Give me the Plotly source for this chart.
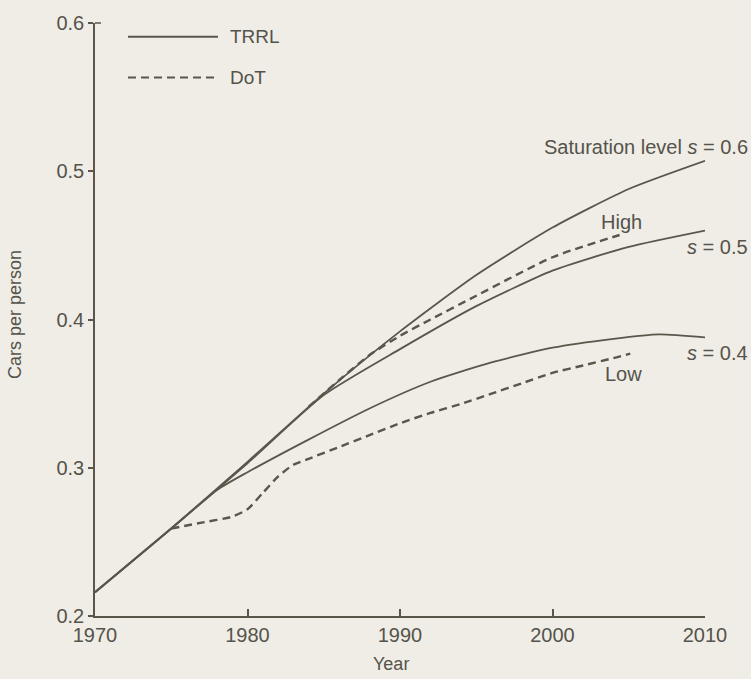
import plotly.graph_objects as go

# ---- data ----
years_s06 = [1970, 1975, 1980, 1985, 1990, 1995, 2000, 2005, 2010]
vals_s06 = [0.216, 0.259, 0.304, 0.350, 0.392, 0.430, 0.462, 0.488, 0.507]

years_s05 = [1970, 1975, 1980, 1985, 1990, 1995, 2000, 2005, 2010]
vals_s05 = [0.216, 0.259, 0.303, 0.349, 0.380, 0.409, 0.433, 0.449, 0.460]

years_s04 = [1970, 1975, 1978, 1980, 1984, 1988, 1992, 1996, 2000, 2004, 2007, 2010]
vals_s04 = [0.216, 0.259, 0.285, 0.297, 0.319, 0.340, 0.358, 0.371, 0.381, 0.387, 0.390, 0.388]

years_high = [1984, 1986, 1988, 1990, 1992, 1995, 2000, 2004.4]
vals_high = [0.341, 0.359, 0.376, 0.389, 0.400, 0.416, 0.442, 0.457]

years_low = [1975, 1977, 1979, 1980, 1981, 1982, 1983, 1984, 1986, 1988, 1990, 1992,
             1994, 1996, 1998, 2000, 2002, 2004, 2005.1]
vals_low = [0.259, 0.263, 0.267, 0.272, 0.283, 0.294, 0.302, 0.306, 0.314, 0.322, 0.330,
            0.337, 0.343, 0.350, 0.357, 0.364, 0.369, 0.374, 0.377]

x_ticks = [1970, 1980, 1990, 2000, 2010]
y_ticks = [0.2, 0.3, 0.4, 0.5, 0.6]

BG = "#efede5"
INK = "#5a564b"
TXT = "#55534c"
FONT = "Liberation Sans, Arial, sans-serif"

fig = go.Figure()

def solid(xs, ys, name):
    fig.add_trace(go.Scatter(x=xs, y=ys, mode="lines", name=name,
                             line=dict(color=INK, width=1.8, shape="spline", smoothing=0.6),
                             showlegend=False, hoverinfo="x+y"))

def dashed(xs, ys, name):
    fig.add_trace(go.Scatter(x=xs, y=ys, mode="lines", name=name,
                             line=dict(color=INK, width=2.4, dash="8px,5px", shape="spline", smoothing=0.6),
                             showlegend=False, hoverinfo="x+y"))

solid(years_s06, vals_s06, "TRRL s=0.6")
solid(years_s05, vals_s05, "TRRL s=0.5")
solid(years_s04, vals_s04, "TRRL s=0.4")
dashed(years_high, vals_high, "DoT High")
dashed(years_low, vals_low, "DoT Low")

W, H = 751, 679
L, R, T, B = 95, 46, 17, 63
pw, ph = W - L - R, H - T - B

def px(xp):
    return (xp - L) / pw

def py(yp):
    return (H - B - yp) / ph

shapes = [
    # legend samples
    dict(type="line", xref="paper", yref="paper", x0=px(128), x1=px(218), y0=py(31), y1=py(31),
         line=dict(color=INK, width=2)),
    dict(type="line", xref="paper", yref="paper", x0=px(128), x1=px(218), y0=py(72), y1=py(72),
         line=dict(color=INK, width=2, dash="8px,5px")),
    # small hook at top of y axis
    dict(type="line", xref="paper", yref="paper", x0=0, x1=px(101), y0=1, y1=1,
         line=dict(color=INK, width=1.5)),
]

def ann(text, x, y, xanchor="left", size=20, **kw):
    return dict(text=text, xref="paper", yref="paper", x=px(x), y=py(y), xanchor=xanchor,
                yanchor="middle", showarrow=False, borderpad=0,
                font=dict(family=FONT, size=size, color=TXT), **kw)

annotations = [
    ann("TRRL", 229, 31, size=19),
    ann("DoT", 229, 72, size=19),
    ann("Saturation level <i>s</i> = 0.6", 749, 142, xanchor="right"),
    ann("High", 621, 218, xanchor="center"),
    ann("<i>s</i> = 0.5", 749, 243, xanchor="right"),
    ann("<i>s</i> = 0.4", 749, 350, xanchor="right"),
    ann("Low", 623, 372, xanchor="center"),
    ann("Year", 391, 664, xanchor="center", size=18),
    ann("Cars per person", 15, 312, xanchor="center", size=18, textangle=-90),
]

fig.update_layout(
    width=W, height=H,
    margin=dict(l=L, r=R, t=T, b=B),
    paper_bgcolor=BG, plot_bgcolor=BG,
    font=dict(family=FONT, color=TXT, size=18),
    shapes=shapes, annotations=annotations,
    xaxis=dict(range=[1970, 2010], tickvals=x_ticks, ticktext=[str(v) for v in x_ticks],
               showgrid=False, zeroline=False, showline=True, linecolor=INK, linewidth=2,
               ticks="inside", ticklen=7, tickwidth=1.5, tickcolor=INK,
               tickfont=dict(family=FONT, size=20, color=TXT)),
    yaxis=dict(range=[0.2, 0.6], tickvals=y_ticks, ticktext=["0.2", "0.3", "0.4", "0.5", "0.6"],
               showgrid=False, zeroline=False, showline=True, linecolor=INK, linewidth=1.5,
               ticks="outside", ticklen=5, tickwidth=1.5, tickcolor=INK,
               tickfont=dict(family=FONT, size=20, color=TXT)),
)

fig.write_html(
    "out.html",
    config={"displayModeBar": False},
    post_script="document.body.style.margin='0';document.body.style.overflow='hidden';"
                "document.body.style.background='" + BG + "';",
)
